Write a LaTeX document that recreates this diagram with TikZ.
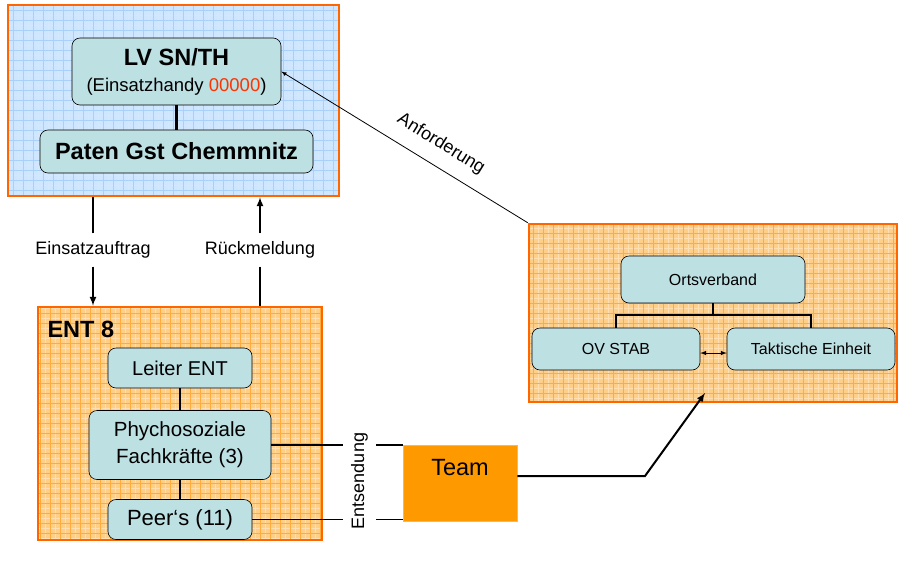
\documentclass[tikz,border=0pt]{standalone}
\usepackage{fontspec}
\setmainfont{Liberation Sans}
\usetikzlibrary{shapes,arrows}

\definecolor{nodeteal}{RGB}{189,224,227}
\definecolor{edgeorange}{RGB}{255,102,0}
\definecolor{bluebg}{RGB}{206,230,255}
\definecolor{blueline}{RGB}{168,208,248}
\definecolor{orangebg}{RGB}{255,206,135}
\definecolor{orangeline}{RGB}{255,172,60}
\definecolor{teamorange}{RGB}{255,153,0}
\definecolor{teamedge}{RGB}{255,178,102}
\definecolor{numred}{RGB}{255,51,0}

\tikzset{
  orgbox/.style={draw=black, fill=nodeteal, rounded corners=8pt, line width=0.6pt,
    align=center, inner sep=0pt},
  outerbox/.style={draw=edgeorange, line width=2.5pt, inner sep=0pt},
  bluearea/.style={outerbox, fill=bluebg, path picture={
    \draw[blueline!50, line width=0.3pt, step=5pt] (path picture bounding box.south west) grid (path picture bounding box.north east);
    \draw[blueline, line width=0.7pt, step=10pt] (path picture bounding box.south west) grid (path picture bounding box.north east);}},
  orangearea/.style={outerbox, fill=orangebg, path picture={
    \draw[orangeline!40, line width=0.3pt, step=5pt] (path picture bounding box.south west) grid (path picture bounding box.north east);
    \draw[orangeline, line width=0.8pt, step=10pt] (path picture bounding box.south west) grid (path picture bounding box.north east);}},
  flowlabel/.style={fill=white, inner xsep=2pt, inner ysep=8pt, font=\fontsize{18}{20}\selectfont},
  tie/.style={line width=2.5pt},
  big/.style={font=\fontsize{23.5}{26}\selectfont\bfseries},
  mid/.style={font=\fontsize{21}{26}\selectfont},
  small/.style={font=\fontsize{16}{18}\selectfont}
}

\begin{document}
\begin{tikzpicture}[x=1pt,y=-1pt]
\useasboundingbox[fill=white] (0,0) rectangle (923,573);

% areas
\node (lvbox) [bluearea, minimum width=331pt, minimum height=191pt] at (173.5,100.5) {};
\node (entbox) [orangearea, minimum width=284pt, minimum height=233pt] at (180,423.5) {};
\node (ovbox) [orangearea, minimum width=368pt, minimum height=178pt] at (713,313) {};

% LV
\node (lv) [orgbox, font=\fontsize{18.5}{26}\selectfont, minimum width=209pt, minimum height=67pt] at (176.5,71.5)
  {{\fontsize{23.5}{26}\selectfont\bfseries LV SN/TH}\\
   (Einsatzhandy \textcolor{numred}{00000})};
\node (paten) [orgbox, big, minimum width=273pt, minimum height=43pt] at (176.5,151.5) {Paten Gst Chemmnitz};
\draw[tie] (lv) -- (paten);

% ENT 8
\node (enttitle) [big, anchor=west] at (44,329) {ENT 8};
\node (leiter) [orgbox, font=\fontsize{20}{24}\selectfont, minimum width=144pt, minimum height=40pt] at (180,368) {Leiter ENT};
\node (phycho) [orgbox, font=\fontsize{20.5}{27}\selectfont, minimum width=182pt, minimum height=69pt] at (180,445) {Phychosoziale\\Fachkräfte (3)};
\node (peer) [orgbox, font=\fontsize{22}{26}\selectfont, minimum width=144pt, minimum height=40pt] at (180,519.5) {Peer‘s (11)};
\draw[tie] (leiter) -- (phycho);
\draw[tie] (phycho) -- (peer);

% Ortsverband
\node (orts) [orgbox, small, minimum width=184pt, minimum height=47pt] at (713,279.5) {Ortsverband};
\node (stab) [orgbox, small, minimum width=168pt, minimum height=42pt] at (616,349) {OV STAB};
\node (takt) [orgbox, small, minimum width=168pt, minimum height=42pt] at (811,349) {Taktische Einheit};
\coordinate (fork) at (713,315);
\draw[tie] (orts) -- (fork);
\draw[tie] (stab) |- (fork) -| (takt);
\draw[latex-latex, line width=1pt] ([yshift=-4pt]stab.east) -- ([yshift=-4pt]takt.west);

% Team
\node (team) [draw=teamedge, fill=teamorange, line width=0.8pt, minimum width=114pt,
  inner ysep=0pt, text height=30pt, text depth=46pt, font=\fontsize{23.5}{26}\selectfont] at (460,483) {Team};

% Auftrag und Rueckmeldung
\node (ea) [flowlabel] at (93,250) {Einsatzauftrag};
\node (rm) [flowlabel] at (260,250) {Rückmeldung};
\draw[line width=2pt] (ea) -- (ea |- lvbox.south);
\draw[-latex, line width=2pt] (ea) -- (ea |- entbox.north);
\draw[line width=2pt] (rm) -- (rm |- entbox.north);
\draw[-latex, line width=2pt] (rm) -- (rm |- lvbox.south);

% Anforderung
\draw[-latex, line width=0.8pt] (ovbox.north west) -- (lv.east);
\node (anf) [rotate=-31.7, font=\fontsize{18}{20}\selectfont] at (441,144) {Anforderung};

% Entsendung
\draw[line width=1.5pt] (phycho.east) -- (phycho.east -| team.west);
\draw[line width=1.5pt] (peer.east) -- (peer.east -| team.west);
\node (ent) [rotate=90, fill=white, inner xsep=1pt, inner ysep=8.5pt, font=\fontsize{18}{20}\selectfont] at (359.5,481) {Entsendung};

% Team zum Ortsverband
\coordinate (knee) at (645,476);
\coordinate (ovin) at (705,393);
\draw[-latex, line width=2pt] ([yshift=7pt]team.east) -- (knee) -- (ovin);
\end{tikzpicture}
\end{document}
